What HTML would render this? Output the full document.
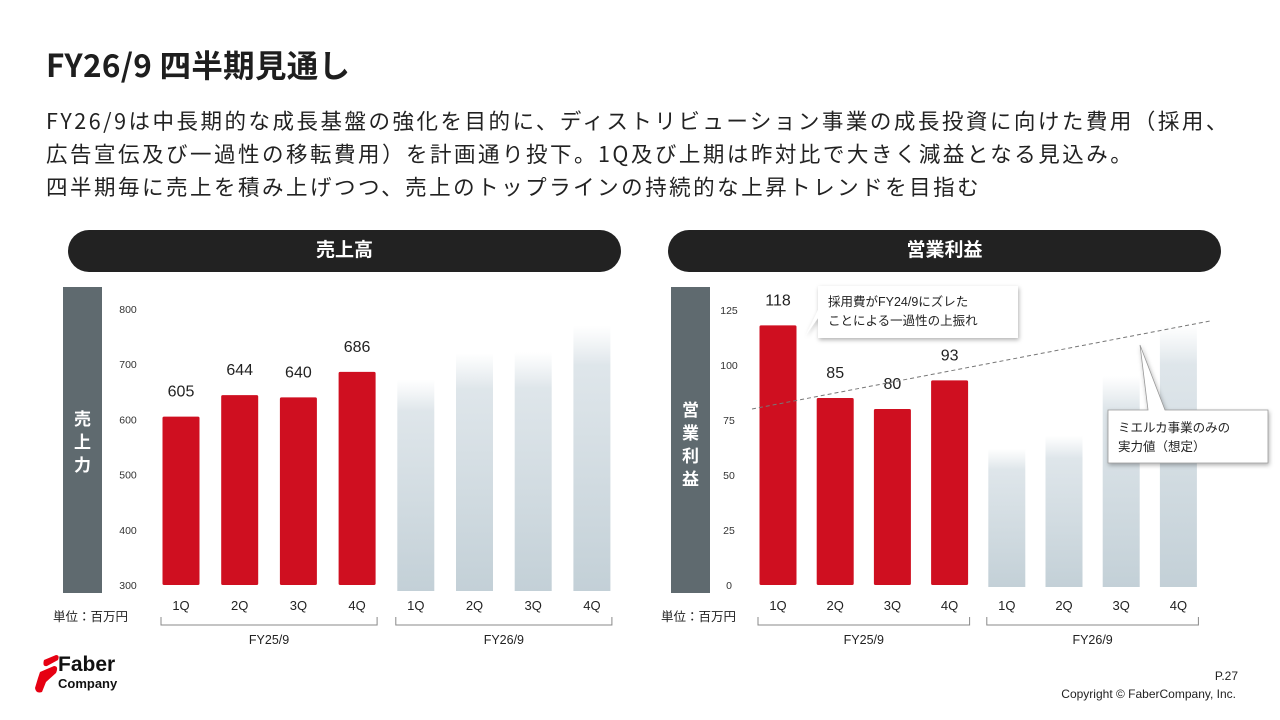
<!DOCTYPE html>
<html><head><meta charset="utf-8">
<style>
*{margin:0;padding:0;box-sizing:border-box}
body{width:1280px;height:720px;background:#fff;font-family:"Liberation Sans","Noto Sans CJK JP",sans-serif;color:#222;position:relative;overflow:hidden}
.abs{position:absolute}
#title{left:46px;top:44px;font-size:31.5px;font-weight:bold;color:#1e1e1e;white-space:nowrap;font-family:"Noto Sans CJK JP",sans-serif;line-height:40px;letter-spacing:0.3px}
#body{left:46px;top:104px;font-size:21.5px;line-height:33px;color:#222;white-space:nowrap;letter-spacing:2.5px;font-family:"Noto Sans CJK JP",sans-serif}
.pill{height:42px;border-radius:21px;background:#222;color:#fff;font-size:19px;font-weight:bold;text-align:center;line-height:42px;top:230px}
svg text{font-family:"Liberation Sans","Noto Sans CJK JP",sans-serif}
</style></head>
<body>
<div id="title" class="abs">FY26/9 四半期見通し</div>
<div id="body" class="abs">FY26/9は中長期的な成長基盤の強化を目的に、ディストリビューション事業の成長投資に向けた費用（採用、<br>広告宣伝及び一過性の移転費用）を計画通り投下。1Q及び上期は昨対比で大きく減益となる見込み。<br>四半期毎に売上を積み上げつつ、売上のトップラインの持続的な上昇トレンドを目指む</div>
<div class="abs pill" style="left:68px;width:553px">売上高</div>
<div class="abs pill" style="left:668px;width:553px">営業利益</div>

<svg class="abs" style="left:0;top:0" width="1280" height="720" id="charts">
<defs>
<linearGradient id="ghost" x1="0" y1="0" x2="0" y2="1">
<stop offset="0" stop-color="#dfe6ea" stop-opacity="0"/>
<stop offset="0.15" stop-color="#dbe3e8" stop-opacity="0.9"/>
<stop offset="1" stop-color="#c3d0d7"/>
</linearGradient>
<filter id="sh" x="-10%" y="-10%" width="130%" height="140%"><feDropShadow dx="1" dy="2" stdDeviation="2" flood-color="#000" flood-opacity="0.3"/></filter>
</defs>
</svg>

<div class="abs" style="left:32px;top:652px">
<svg width="100" height="45" style="position:absolute;left:0;top:0">
<path d="M12 8 L24 3 Q28 3 26 8 L15 14 Q10 15 12 8Z M8 20 L22 14 Q27 14 24 21 L14 30 L10 40 Q4 42 3 36 L6 26Z" fill="#e60012"/>
</svg>
<div style="position:absolute;left:26px;top:2px;font-size:21px;font-weight:bold;color:#111;line-height:22px">Faber</div>
<div style="position:absolute;left:26px;top:25px;font-size:13px;font-weight:bold;color:#111;line-height:14px">Company</div>
</div>
<div class="abs" style="right:42px;top:669px;font-size:12px;color:#222">P.27</div>
<div class="abs" style="right:44px;top:687px;font-size:12px;color:#222">Copyright © FaberCompany, Inc.</div>

<script>
const quarters = ["1Q","2Q","3Q","4Q","1Q","2Q","3Q","4Q"];
const fyLabels = ["FY25/9","FY26/9"];
const salesActual = [605,644,640,686];
const salesGhost = [672,720,722,770];
const salesTicks = [300,400,500,600,700,800];
const profitActual = [118,85,80,93];
const profitGhost = [62,68,95,118];
const profitTicks = [0,25,50,75,100,125];
const trendLine = [80,120];

const svg = document.getElementById('charts');
const NS = 'http://www.w3.org/2000/svg';
function mk(tag, attrs, text){
  const e = document.createElementNS(NS, tag);
  for (const k in attrs) e.setAttribute(k, attrs[k]);
  if (text !== undefined) e.textContent = text;
  svg.appendChild(e);
  return e;
}

function drawChart(cfg){
  const y = v => cfg.y0 - (v - cfg.vmin) / (cfg.vmax - cfg.vmin) * (cfg.y0 - cfg.y1);
  const x = i => cfg.x0 + i * cfg.step;
  const bar = mk('rect', {x:cfg.tx, y:287, width:39, height:306, fill:'#5f6a6f'});
  
  
  cfg.title.split('').forEach((c, k) => {
    const t = mk('text', {x:cfg.tx+19.5, y:cfg.titleY + k*23, 'text-anchor':'middle', 'font-size':17, 'font-weight':'bold', fill:'#fff'}, c);
    
    
  });
  cfg.ticks.forEach(v => {
    const t = mk('text', {x:cfg.tickX, y:y(v)+4, 'text-anchor':'middle', 'font-size':10.5, fill:'#333'}, v);
    
    
  });
  cfg.ghost.forEach((v, i) => {
    const r = mk('rect', {x:x(i+4)-18.5, y:y(v), width:37, height:cfg.gb - y(v), fill:'url(#ghost)'});
    
    
  });
  cfg.actual.forEach((v, i) => {
    const r = mk('rect', {x:x(i)-18.5, y:y(v), width:37, height:cfg.y0 - y(v), fill:'#cf0f20', rx:1.5});
    
    
    const t = mk('text', {x:x(i), y:y(v)-cfg.lblGap, 'text-anchor':'middle', 'font-size':16, fill:'#222'}, v);
    
    
  });
  quarters.forEach((q, i) => {
    const t = mk('text', {x:x(i), y:610, 'text-anchor':'middle', 'font-size':13, fill:'#222'}, q);
    
    
  });
  const u = mk('text', {x:cfg.tx-10, y:621, 'font-size':12.5, fill:'#222'}, '単位：百万円');
  
  
  [[0,3],[4,7]].forEach((g, k) => {
    const a = x(g[0]) - 20, b = x(g[1]) + 20;
    const p = mk('path', {d:`M${a} 617 V625 H${b} V617`, stroke:'#888', fill:'none', 'stroke-width':1});
    
    
    const t = mk('text', {x:(a+b)/2, y:644, 'text-anchor':'middle', 'font-size':12.5, fill:'#222'}, fyLabels[k]);
    
    
  });
  return {x, y};
}

drawChart({id:'sales', title:'売上力', tx:63, titleY:425, tickX:128, x0:181, step:58.7, y0:585, y1:309, vmin:300, vmax:800, gb:591,
  ticks:salesTicks, actual:salesActual, ghost:salesGhost, lblGap:20});
const P = drawChart({id:'profit', title:'営業利益', tx:671, titleY:416, tickX:729, x0:778, step:57.2, y0:585, y1:310, vmin:0, vmax:125, gb:587,
  ticks:profitTicks, actual:profitActual, ghost:profitGhost, lblGap:20});

const tl = mk('line', {x1:752, y1:P.y(trendLine[0]), x2:1210, y2:P.y(trendLine[1]), stroke:'#777', 'stroke-width':1, 'stroke-dasharray':'4 3'});



const c1 = mk('path', {d:'M818 286 H1018 V338 H818 V318 L806 335 L818 310 Z', fill:'#fff', filter:'url(#sh)'});


const c1a = mk('text', {x:828, y:306, 'font-size':12.5, fill:'#222'}, '採用費がFY24/9にズレた');


const c1b = mk('text', {x:828, y:325, 'font-size':12.5, fill:'#222'}, 'ことによる一過性の上振れ');


const c2 = mk('path', {d:'M1108 410 H1148 L1140 345 L1165 410 H1268 V463 H1108 Z', fill:'#fff', stroke:'#999', 'stroke-width':0.8, filter:'url(#sh)'});


const c2a = mk('text', {x:1118, y:432, 'font-size':12.5, fill:'#222'}, 'ミエルカ事業のみの');


const c2b = mk('text', {x:1118, y:451, 'font-size':12.5, fill:'#222'}, '実力値（想定）');


</script>
</body></html>
